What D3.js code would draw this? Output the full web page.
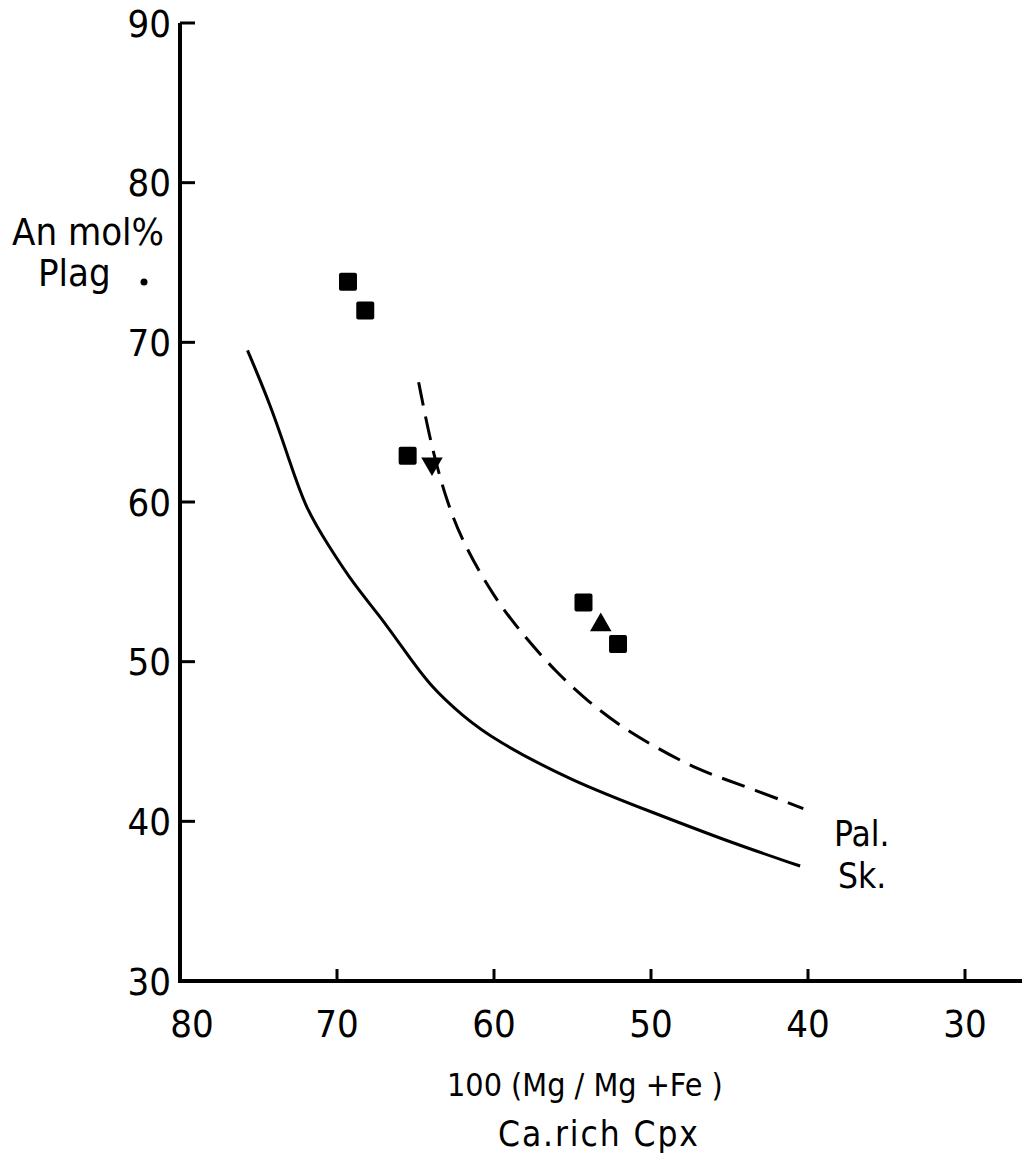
<!DOCTYPE html>
<html>
<head>
<meta charset="utf-8">
<script src="https://cdn.jsdelivr.net/npm/d3@7"></script>
<style>
  body { margin: 0; background: #fff; }
  text { font-family: "DejaVu Sans Condensed", "DejaVu Sans", sans-serif; fill: #000; }
</style>
</head>
<body>
<div id="chart"></div>
<script>
// Tick values
const xTicks = [80, 70, 60, 50, 40, 30];
const yTicks = [30, 40, 50, 60, 70, 80, 90];

// Sample points: squares, down triangle, up triangle
const squares = [
  { x: 69.3, y: 73.8 },
  { x: 68.2, y: 72.0 },
  { x: 65.5, y: 62.9 },
  { x: 54.3, y: 53.7 },
  { x: 52.1, y: 51.1 }
];
const triDown = [{ x: 63.95, y: 62.4 }];
const triUp = [{ x: 53.2, y: 52.3 }];

// Curves
const skCurve = [
  [75.7, 69.5], [74.2, 66], [73, 62.5], [72, 59.6], [70.5, 57.2], [68.9, 54.8],
  [67.3, 52.9], [65.7, 50.7], [64.1, 48.5], [62, 46.6], [60, 45.1], [55, 42.5],
  [50, 40.6], [45, 38.7], [40.5, 37.2]
];
const palCurve = [
  [64.8, 67.5], [64, 63.5], [63, 60], [62, 57.5], [60, 54], [58, 51.5],
  [56, 49.3], [54, 47.5], [52, 46], [50, 44.8], [47, 43.2], [44, 42.2],
  [40.3, 40.8]
];

const width = 1022, height = 1167;

const svg = d3.select("#chart")
  .append("svg")
  .attr("width", width)
  .attr("height", height);

const x = d3.scaleLinear().domain([80, 30]).range([180, 965]);
const y = d3.scaleLinear().domain([30, 90]).range([981, 23]);

// Axes lines
svg.append("line")
  .attr("x1", 180).attr("y1", y(90))
  .attr("x2", 180).attr("y2", y(30))
  .attr("stroke", "#000").attr("stroke-width", 4);

svg.append("line")
  .attr("x1", 178).attr("y1", y(30))
  .attr("x2", 1022).attr("y2", y(30))
  .attr("stroke", "#000").attr("stroke-width", 4);

// y ticks (pointing inward)
yTicks.filter(t => t > 30).forEach(t => {
  svg.append("line")
    .attr("x1", 180).attr("x2", 195)
    .attr("y1", y(t)).attr("y2", y(t))
    .attr("stroke", "#000").attr("stroke-width", 3);
});
yTicks.forEach(t => {
  svg.append("text")
    .attr("x", 171)
    .attr("y", y(t))
    .attr("dy", "0.36em")
    .attr("text-anchor", "end")
    .style("font-size", "38px")
    .text(t);
});

// x ticks (pointing up)
xTicks.filter(t => t < 80).forEach(t => {
  svg.append("line")
    .attr("x1", x(t)).attr("x2", x(t))
    .attr("y1", y(30)).attr("y2", y(30) - 12)
    .attr("stroke", "#000").attr("stroke-width", 3);
});
xTicks.forEach(t => {
  svg.append("text")
    .attr("x", x(t) + (t === 80 ? 12 : 0))
    .attr("y", 1037)
    .attr("text-anchor", "middle")
    .style("font-size", "38px")
    .text(t);
});

// Curves
const line = d3.line()
  .x(d => x(d[0]))
  .y(d => y(d[1]))
  .curve(d3.curveBasis);

svg.append("path")
  .datum(skCurve)
  .attr("d", line)
  .attr("fill", "none")
  .attr("stroke", "#000")
  .attr("stroke-width", 3);

svg.append("path")
  .datum(palCurve)
  .attr("d", line)
  .attr("fill", "none")
  .attr("stroke", "#000")
  .attr("stroke-width", 3)
  .attr("stroke-dasharray", "24,11");

// Markers
const sq = 18;
svg.selectAll(".sq")
  .data(squares)
  .enter().append("rect")
  .attr("x", d => x(d.x) - sq / 2)
  .attr("y", d => y(d.y) - sq / 2)
  .attr("width", sq).attr("height", sq)
  .attr("rx", 2)
  .attr("fill", "#000");

const triSym = d3.symbol().type(d3.symbolTriangle).size(200);
svg.selectAll(".tu")
  .data(triUp)
  .enter().append("path")
  .attr("d", triSym)
  .attr("transform", d => `translate(${x(d.x)},${y(d.y)})`)
  .attr("fill", "#000");

svg.selectAll(".td")
  .data(triDown)
  .enter().append("path")
  .attr("d", triSym)
  .attr("transform", d => `translate(${x(d.x)},${y(d.y)}) rotate(180)`)
  .attr("fill", "#000");

// Curve labels
svg.append("text").attr("x", 834).attr("y", 846)
  .style("font-size", "35px").text("Pal.");
svg.append("text").attr("x", 838).attr("y", 888)
  .style("font-size", "35px").text("Sk.");

// Axis titles
svg.append("text").attr("x", 12).attr("y", 245)
  .style("font-size", "38px").text("An mol%");
svg.append("text").attr("x", 38).attr("y", 286)
  .style("font-size", "38px").text("Plag");
svg.append("circle").attr("cx", 144).attr("cy", 282).attr("r", 3.5).attr("fill", "#000");

svg.append("text").attr("x", 447).attr("y", 1096)
  .style("font-size", "32px").text("100 (Mg / Mg +Fe )");
svg.append("text").attr("x", 498).attr("y", 1146)
  .attr("textLength", 200).attr("lengthAdjust", "spacing")
  .style("font-size", "35px").text("Ca.rich Cpx");
</script>
</body>
</html>
